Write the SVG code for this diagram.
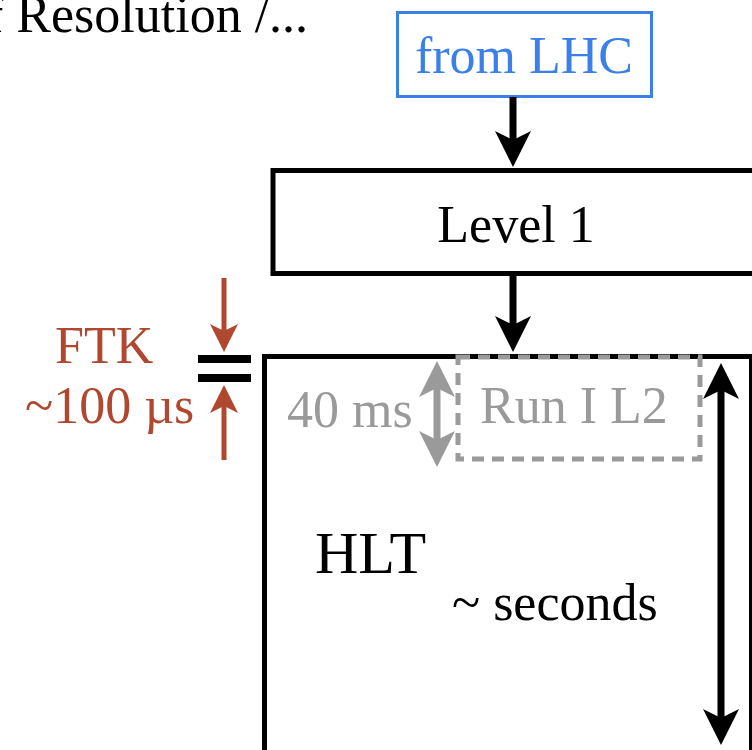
<svg xmlns="http://www.w3.org/2000/svg" width="752" height="750" viewBox="0 0 752 750">
  <style>
    text { font-family: "Liberation Serif", "Times New Roman", serif; font-size: 52px; }
    .box { fill: #ffffff; stroke: #000000; stroke-width: 5; }
    .blue { fill: #3b80e8; }
    .gray { fill: #9a9a9a; }
    .red { fill: #b0472f; }
    .blk { fill: #000000; }
    .shaft { stroke: #000000; stroke-width: 7; fill: none; }
    .shaft-gray { stroke: #9a9a9a; stroke-width: 7; fill: none; }
    .shaft-red { stroke: #b0472f; stroke-width: 5; fill: none; }
  </style>
  <defs>
    <marker id="head-black" markerUnits="userSpaceOnUse" viewBox="0 -20 40 40" markerWidth="40" markerHeight="40" refX="10" refY="0" orient="auto-start-reverse">
      <path d="M0,-18 L36,0 L0,18 L9,0 Z" fill="#000000"/>
    </marker>
    <marker id="head-gray" markerUnits="userSpaceOnUse" viewBox="0 -20 40 40" markerWidth="40" markerHeight="40" refX="10" refY="0" orient="auto-start-reverse">
      <path d="M0,-18 L36,0 L0,18 L9,0 Z" fill="#9a9a9a"/>
    </marker>
    <marker id="head-red" markerUnits="userSpaceOnUse" viewBox="0 -16 32 32" markerWidth="32" markerHeight="32" refX="8" refY="0" orient="auto-start-reverse">
      <path d="M0,-14 L28,0 L0,14 L7,0 Z" fill="#b0472f"/>
    </marker>
  </defs>

  <rect width="752" height="750" fill="#ffffff"/>

  <!-- heading fragment -->
  <text x="-14" y="32" class="blk">f Resolution /...</text>

  <!-- source box -->
  <g id="from-lhc">
    <rect x="397.5" y="12.5" width="254" height="84" fill="#ffffff" stroke="#3b80e8" stroke-width="3"/>
    <text x="524" y="73" text-anchor="middle" class="blue">from LHC</text>
  </g>

  <!-- first trigger level -->
  <g id="level1">
    <rect x="273" y="170.5" width="500" height="103" class="box"/>
    <text x="516" y="242" text-anchor="middle" class="blk">Level 1</text>
  </g>

  <!-- high level trigger -->
  <g id="hlt">
    <rect x="264.5" y="356.5" width="487" height="400" class="box"/>
    <text x="315" y="573" class="blk" style="font-size:60px">HLT</text>
    <text x="452" y="620" class="blk">~ seconds</text>
  </g>

  <!-- legacy level 2 window inside HLT -->
  <g id="run1-l2">
    <rect x="458" y="357" width="242" height="102" fill="none" stroke="#9a9a9a" stroke-width="5" stroke-dasharray="12 8"/>
    <text x="480" y="423" class="gray">Run I L2</text>
  </g>

  <!-- fast tracker -->
  <g id="ftk">
    <text x="55" y="363" class="red">FTK</text>
    <text x="25" y="423" class="red">~100 µs</text>
    <rect x="198" y="355" width="53" height="8" fill="#000000"/>
    <rect x="198" y="374" width="53" height="8" fill="#000000"/>
  </g>

  <g id="latency-40ms">
    <text x="287" y="427" class="gray">40 ms</text>
  </g>

  <!-- connectors -->
  <g id="connectors">
    <line x1="513" y1="97" x2="513" y2="141" class="shaft" marker-end="url(#head-black)"/>
    <line x1="513" y1="276" x2="513" y2="326" class="shaft" marker-end="url(#head-black)"/>
    <line x1="437" y1="387" x2="437" y2="441" class="shaft-gray" marker-start="url(#head-gray)" marker-end="url(#head-gray)"/>
    <line x1="721" y1="389" x2="721" y2="719" class="shaft" marker-start="url(#head-black)" marker-end="url(#head-black)"/>
    <line x1="224" y1="278" x2="224" y2="332" class="shaft-red" marker-end="url(#head-red)"/>
    <line x1="224" y1="460" x2="224" y2="405" class="shaft-red" marker-end="url(#head-red)"/>
  </g>
</svg>
